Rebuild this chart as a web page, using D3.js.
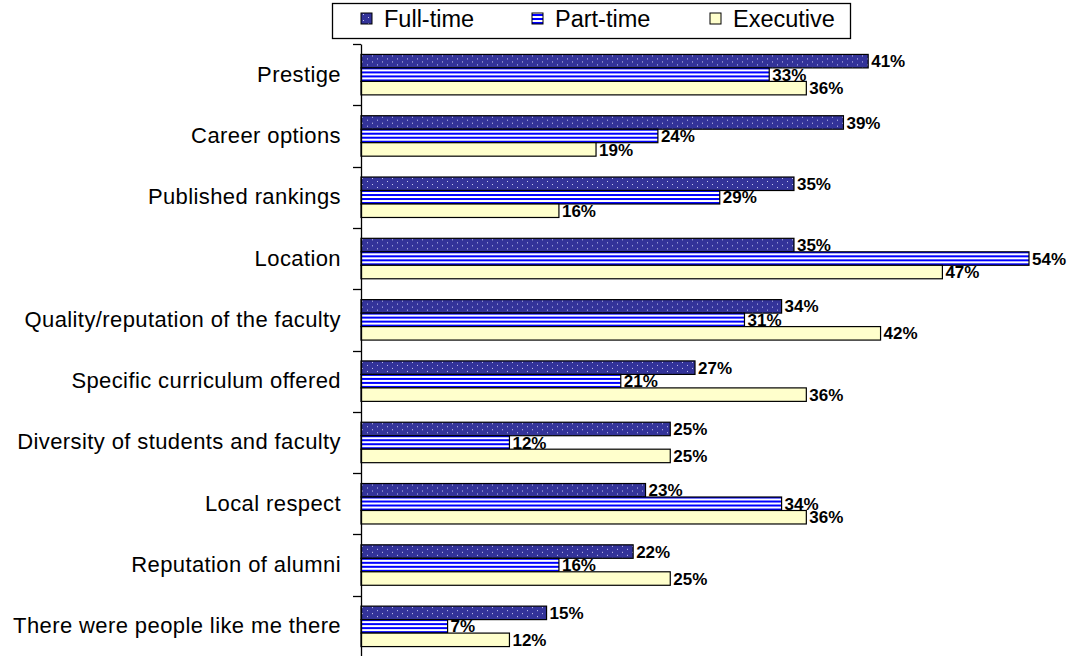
<!DOCTYPE html>
<html>
<head>
<meta charset="utf-8">
<script src="https://cdn.jsdelivr.net/npm/d3@7"></script>
<style>
  body { margin: 0; background: #fff; }
  svg { display: block; font-family: Arial, "Liberation Sans", sans-serif; }
</style>
</head>
<body>
<div id="chart"></div>
<script>
// chart data
var categories = [
  "Prestige",
  "Career options",
  "Published rankings",
  "Location",
  "Quality/reputation of the faculty",
  "Specific curriculum offered",
  "Diversity of students and faculty",
  "Local respect",
  "Reputation of alumni",
  "There were people like me there"
];
var seriesNames = ["Full-time", "Part-time", "Executive"];
var fullTime = [41, 39, 35, 35, 34, 27, 25, 23, 22, 15];
var partTime = [33, 24, 29, 54, 31, 21, 12, 34, 16, 7];
var executive = [36, 19, 16, 47, 42, 36, 25, 36, 25, 12];

var width = 1072,
  height = 656;

var svg = d3
  .select("#chart")
  .append("svg")
  .attr("width", width)
  .attr("height", height);

// fills: dotted navy, blue stripes, pale yellow
var defs = svg.append("defs");
var dots = defs
  .append("pattern")
  .attr("id", "dots")
  .attr("patternUnits", "userSpaceOnUse")
  .attr("width", 10)
  .attr("height", 6);
dots.append("rect").attr("width", 10).attr("height", 6).attr("fill", "#333399");
dots.append("rect").attr("x", 2).attr("y", 1).attr("width", 1).attr("height", 1).attr("fill", "#c8c8f0");
dots.append("rect").attr("x", 7).attr("y", 4).attr("width", 1).attr("height", 1).attr("fill", "#c8c8f0");

var stripes = defs
  .append("pattern")
  .attr("id", "stripes")
  .attr("patternUnits", "userSpaceOnUse")
  .attr("width", 8)
  .attr("height", 4)
  .attr("y", 1);
stripes.append("rect").attr("width", 8).attr("height", 4).attr("fill", "#ffffff");
stripes.append("rect").attr("y", 0).attr("width", 8).attr("height", 2).attr("fill", "#0000ff");

var fills = ["url(#dots)", "url(#stripes)", "#ffffcc"];

var x = d3.scaleLinear().domain([0, 54]).range([361, 1029]);

var y = d3
  .scaleBand()
  .domain(categories)
  .range([44, 657])
  .paddingInner(0.34)
  .paddingOuter(0.17);

var ySub = d3
  .scaleBand()
  .domain(seriesNames)
  .range([0, y.bandwidth()]);

var rows = categories.map(function(c, i) {
  return { cat: c, vals: [fullTime[i], partTime[i], executive[i]] };
});

var group = svg
  .selectAll("g.cat")
  .data(rows)
  .enter()
  .append("g")
  .attr("class", "cat")
  .attr("transform", function(d) {
    return "translate(0," + y(d.cat) + ")";
  });

group
  .selectAll("rect")
  .data(function(d) {
    return d.vals.map(function(v, j) {
      return { s: seriesNames[j], v: v, j: j };
    });
  })
  .enter()
  .append("rect")
  .attr("x", x(0))
  .attr("y", function(d) {
    return ySub(d.s);
  })
  .attr("width", function(d) {
    return x(d.v) - x(0);
  })
  .attr("height", ySub.bandwidth())
  .attr("fill", function(d) {
    return fills[d.j];
  })
  .attr("stroke", "#000")
  .attr("stroke-width", 1.2);

group
  .selectAll("text.val")
  .data(function(d) {
    return d.vals.map(function(v, j) {
      return { s: seriesNames[j], v: v };
    });
  })
  .enter()
  .append("text")
  .attr("class", "val")
  .attr("x", function(d) {
    return x(d.v) + 3;
  })
  .attr("y", function(d) {
    return ySub(d.s) + ySub.bandwidth() / 2;
  })
  .attr("dy", "0.36em")
  .attr("font-size", 17)
  .attr("font-weight", "bold")
  .attr("fill", "#000")
  .text(function(d) {
    return d.v + "%";
  });

// category axis
var axis = d3
  .axisLeft(y)
  .tickSize(0)
  .tickPadding(20);

var gAxis = svg
  .append("g")
  .attr("transform", "translate(361,0)")
  .call(axis);
gAxis.select(".domain").attr("stroke", "#000").attr("stroke-width", 1.3);
gAxis
  .selectAll(".tick text")
  .attr("font-size", 22)
  .attr("letter-spacing", 0.4)
  .attr("font-family", "Arial, 'Liberation Sans', sans-serif")
  .attr("fill", "#000");

// tick marks between categories
var bounds = categories.map(function(c) {
  return y(c) - y.step() * y.paddingOuter();
});
svg
  .selectAll("line.tk")
  .data(bounds)
  .enter()
  .append("line")
  .attr("class", "tk")
  .attr("x1", 353)
  .attr("x2", 361)
  .attr("y1", function(d) { return Math.round(d) + 0.5; })
  .attr("y2", function(d) { return Math.round(d) + 0.5; })
  .attr("stroke", "#000")
  .attr("stroke-width", 1.3);

// legend
var legend = svg.append("g");
legend
  .append("rect")
  .attr("x", 332.5)
  .attr("y", 3.5)
  .attr("width", 518)
  .attr("height", 35)
  .attr("fill", "#fff")
  .attr("stroke", "#000")
  .attr("stroke-width", 1.3);

var legendX = [361, 532, 710];
var item = legend
  .selectAll("g.item")
  .data(seriesNames)
  .enter()
  .append("g")
  .attr("class", "item")
  .attr("transform", function(d, i) {
    return "translate(" + legendX[i] + ",13)";
  });
item
  .append("rect")
  .attr("width", 11)
  .attr("height", 11)
  .attr("fill", function(d, i) {
    return fills[i];
  })
  .attr("stroke", "#000")
  .attr("stroke-width", 1);
item
  .append("text")
  .attr("x", 23)
  .attr("y", 6)
  .attr("dy", "0.36em")
  .attr("font-size", 23.5)
  .attr("fill", "#000")
  .text(function(d) {
    return d;
  });
</script>
</body>
</html>
